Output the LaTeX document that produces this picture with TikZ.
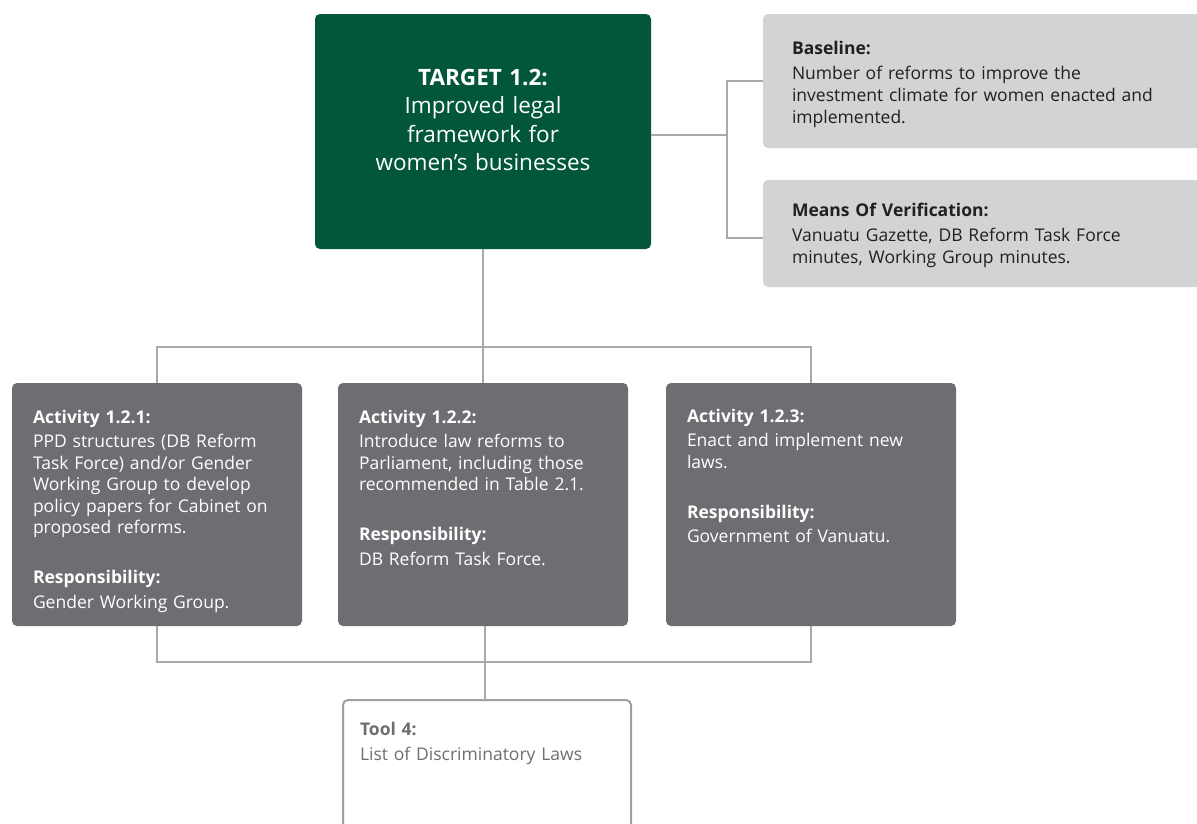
\documentclass[tikz,border=0pt]{standalone}
\usepackage{fontspec}
\setmainfont{Open Sans}
\definecolor{tgreen}{HTML}{02573A}
\definecolor{actgray}{HTML}{6D6E71}
\definecolor{lightbox}{HTML}{D1D3D4}
\definecolor{connc}{HTML}{A7A9AC}
\definecolor{toolc}{HTML}{9D9FA2}
\definecolor{darktext}{HTML}{231F20}
\begin{document}
\begin{tikzpicture}[x=1pt,y=-1pt,
  boxbase/.style={rectangle,rounded corners=5pt,inner sep=0pt,outer sep=0pt,anchor=north west},
  greenbox/.style={boxbase,fill=tgreen},
  infobox/.style={boxbase,fill=lightbox},
  actbox/.style={boxbase,fill=actgray,minimum width=290pt,minimum height=243pt},
  toolbox/.style={boxbase,draw=toolc,line width=2pt,fill=white},
  conn/.style={draw=connc,line width=2pt},
  bodytext/.style={inner sep=0pt,outer sep=0pt,anchor=base west,align=left,
    font=\fontsize{17.5}{22}\selectfont},
  acttext/.style={bodytext,text=white,text width=265pt,font=\fontsize{17.5}{21.5}\selectfont},
  infotext/.style={bodytext,text=darktext,text width=390pt},
  tooltext/.style={bodytext,text=actgray,text width=260pt},
  titletext/.style={inner sep=0pt,outer sep=0pt,anchor=base,align=center,text=white,
    text width=320pt,font=\fontsize{22.5}{28.5}\selectfont}
]
\useasboundingbox (0,0) rectangle (1197,823);

% boxes
\node[greenbox,minimum width=336pt,minimum height=235pt] (target) at (315,14) {};
\node[infobox,minimum width=450pt,minimum height=134pt] (baseline) at (763,14) {};
\node[infobox,minimum width=450pt,minimum height=107pt] (mov) at (763,180) {};
\node[actbox] (act1) at (12,383) {};
\node[actbox] (act2) at (338,383) {};
\node[actbox] (act3) at (666,383) {};
\node[toolbox,minimum width=288pt,minimum height=150pt] (tool) at (343,700) {};

% texts
\node[titletext] (ttitle) at (483,85) {\textbf{TARGET 1.2:}\\Improved legal\\framework for\\women’s businesses};
\node[infotext] (tbase) at (792,54) {\textbf{Baseline:}\\[3pt]Number of reforms to improve the\\investment climate for women enacted and\\implemented.};
\node[infotext] (tmov) at (792,216) {\textbf{Means Of Verification:}\\[3pt]Vanuatu Gazette, DB Reform Task Force\\minutes, Working Group minutes.};
\node[acttext] (tact1) at (33,423) {\textbf{Activity 1.2.1:}\\[3pt]PPD structures (DB Reform\\Task Force) and/or Gender\\Working Group to develop\\policy papers for Cabinet on\\proposed reforms.\\[28.5pt]\textbf{Responsibility:}\\[3pt]Gender Working Group.};
\node[acttext] (tact2) at (359,423) {\textbf{Activity 1.2.2:}\\[3pt]Introduce law reforms to\\Parliament, including those\\recommended in Table 2.1.\\[28.5pt]\textbf{Responsibility:}\\[3pt]DB Reform Task Force.};
\node[acttext] (tact3) at (687,422) {\textbf{Activity 1.2.3:}\\[3pt]Enact and implement new\\laws.\\[28.5pt]\textbf{Responsibility:}\\[3pt]Government of Vanuatu.};
\node[tooltext] (ttool) at (360,735) {\textbf{Tool 4:}\\[3pt]List of Discriminatory Laws};

% connectors
\draw[conn] ([yshift=-3pt]target.east) -- ++(76,0) coordinate (jr);
\draw[conn] (baseline.west) -| (jr) |- ([yshift=-4.5pt]mov.west);
\draw[conn] (target.south) -- (act2.north);
\draw[conn] (act1.north) -- ++(0,-36) -| (act3.north);
\draw[conn] (act1.south) -- ++(0,36) -| (act3.south);
\draw[conn] ([xshift=2pt]act2.south) -- ([xshift=2pt]act2.south |- tool.north);
\end{tikzpicture}
\end{document}
